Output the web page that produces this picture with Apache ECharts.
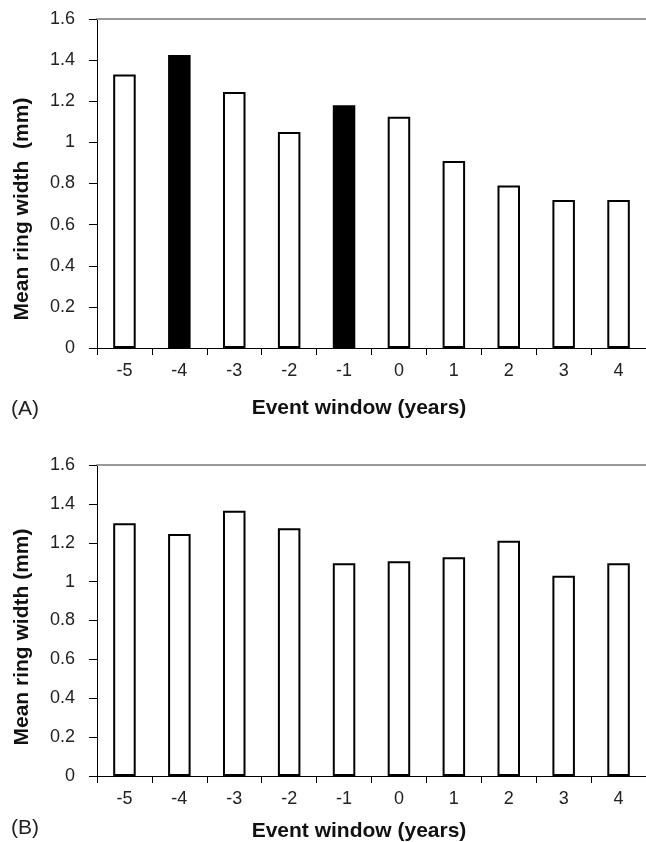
<!DOCTYPE html>
<html><head><meta charset="utf-8">
<script src="https://cdn.jsdelivr.net/npm/echarts@6/dist/echarts.min.js"></script>
<style>html,body{margin:0;padding:0;background:#fff}#c{width:646px;height:842px}</style>
</head><body><div id="c"></div>
<script>
var categories = ['-5','-4','-3','-2','-1','0','1','2','3','4'];
var valuesA = [1.33, 1.425, 1.245, 1.05, 1.18, 1.125, 0.91, 0.79, 0.72, 0.72];
var valuesB = [1.30, 1.245, 1.365, 1.275, 1.095, 1.105, 1.125, 1.21, 1.03, 1.095];
var highlightA = ['-4','-1'];
var yTicks = [0, 0.2, 0.4, 0.6, 0.8, 1, 1.2, 1.4, 1.6];

var FONT = 'Liberation Sans, Arial, sans-serif';
var chart = echarts.init(document.getElementById('c'), null, {renderer:'canvas'});

function barData(vals, hl){
  return vals.map(function(v,i){
    var dark = hl && hl.indexOf(categories[i]) >= 0;
    return {value:v, itemStyle:{color: dark ? '#000' : '#fff', borderColor:'#000', borderWidth:2}};
  });
}
function xAx(gi){
  return {type:'category', gridIndex:gi, data:categories, boundaryGap:true,
    axisLine:{lineStyle:{color:'#000',width:1}},
    axisTick:{show:true, length:7, lineStyle:{color:'#000'}},
    axisLabel:{color:'#222', fontSize:18, fontFamily:FONT, margin:14}};
}
function xTop(gi){
  return {type:'category', gridIndex:gi, position:'top', data:categories,
    axisLine:{show:true, lineStyle:{color:'#999',width:2}},
    axisTick:{show:false}, axisLabel:{show:false}};
}
function yAx(gi){
  return {type:'value', gridIndex:gi, min:yTicks[0], max:yTicks[yTicks.length-1], interval:0.2,
    axisLine:{show:true, lineStyle:{color:'#000',width:1}},
    axisTick:{show:true, inside:false, length:8, lineStyle:{color:'#000'}},
    splitLine:{show:false},
    axisLabel:{color:'#222', fontSize:18, fontFamily:FONT, margin:22}};
}

chart.setOption({
  animation:false,
  grid:[
    {left:97, top:19, right:0, height:329},
    {left:97, top:465, right:0, height:311}
  ],
  xAxis:[xAx(0), xAx(1), xTop(0), xTop(1)],
  yAxis:[yAx(0), yAx(1)],
  series:[
    {type:'bar', xAxisIndex:0, yAxisIndex:0, data:barData(valuesA, highlightA), barWidth:'41%'},
    {type:'bar', xAxisIndex:1, yAxisIndex:1, data:barData(valuesB, null), barWidth:'41%'}
  ],
  graphic:[
    {type:'text', x:22, y:209, rotation:Math.PI/2, style:{text:'Mean ring width  (mm)', fill:'#111', font:'bold 21px '+FONT, textAlign:'center', textVerticalAlign:'middle'}},
    {type:'text', x:22, y:637, rotation:Math.PI/2, style:{text:'Mean ring width (mm)', fill:'#111', font:'bold 21px '+FONT, textAlign:'center', textVerticalAlign:'middle'}},
    {type:'text', x:359, y:408, style:{text:'Event window (years)', fill:'#111', font:'bold 21px '+FONT, textAlign:'center', textVerticalAlign:'middle'}},
    {type:'text', x:359, y:831, style:{text:'Event window (years)', fill:'#111', font:'bold 21px '+FONT, textAlign:'center', textVerticalAlign:'middle'}},
    {type:'text', x:25, y:409, style:{text:'(A)', fill:'#222', font:'21px '+FONT, textAlign:'center', textVerticalAlign:'middle'}},
    {type:'text', x:25, y:828, style:{text:'(B)', fill:'#222', font:'21px '+FONT, textAlign:'center', textVerticalAlign:'middle'}}
  ]
});
</script></body></html>
